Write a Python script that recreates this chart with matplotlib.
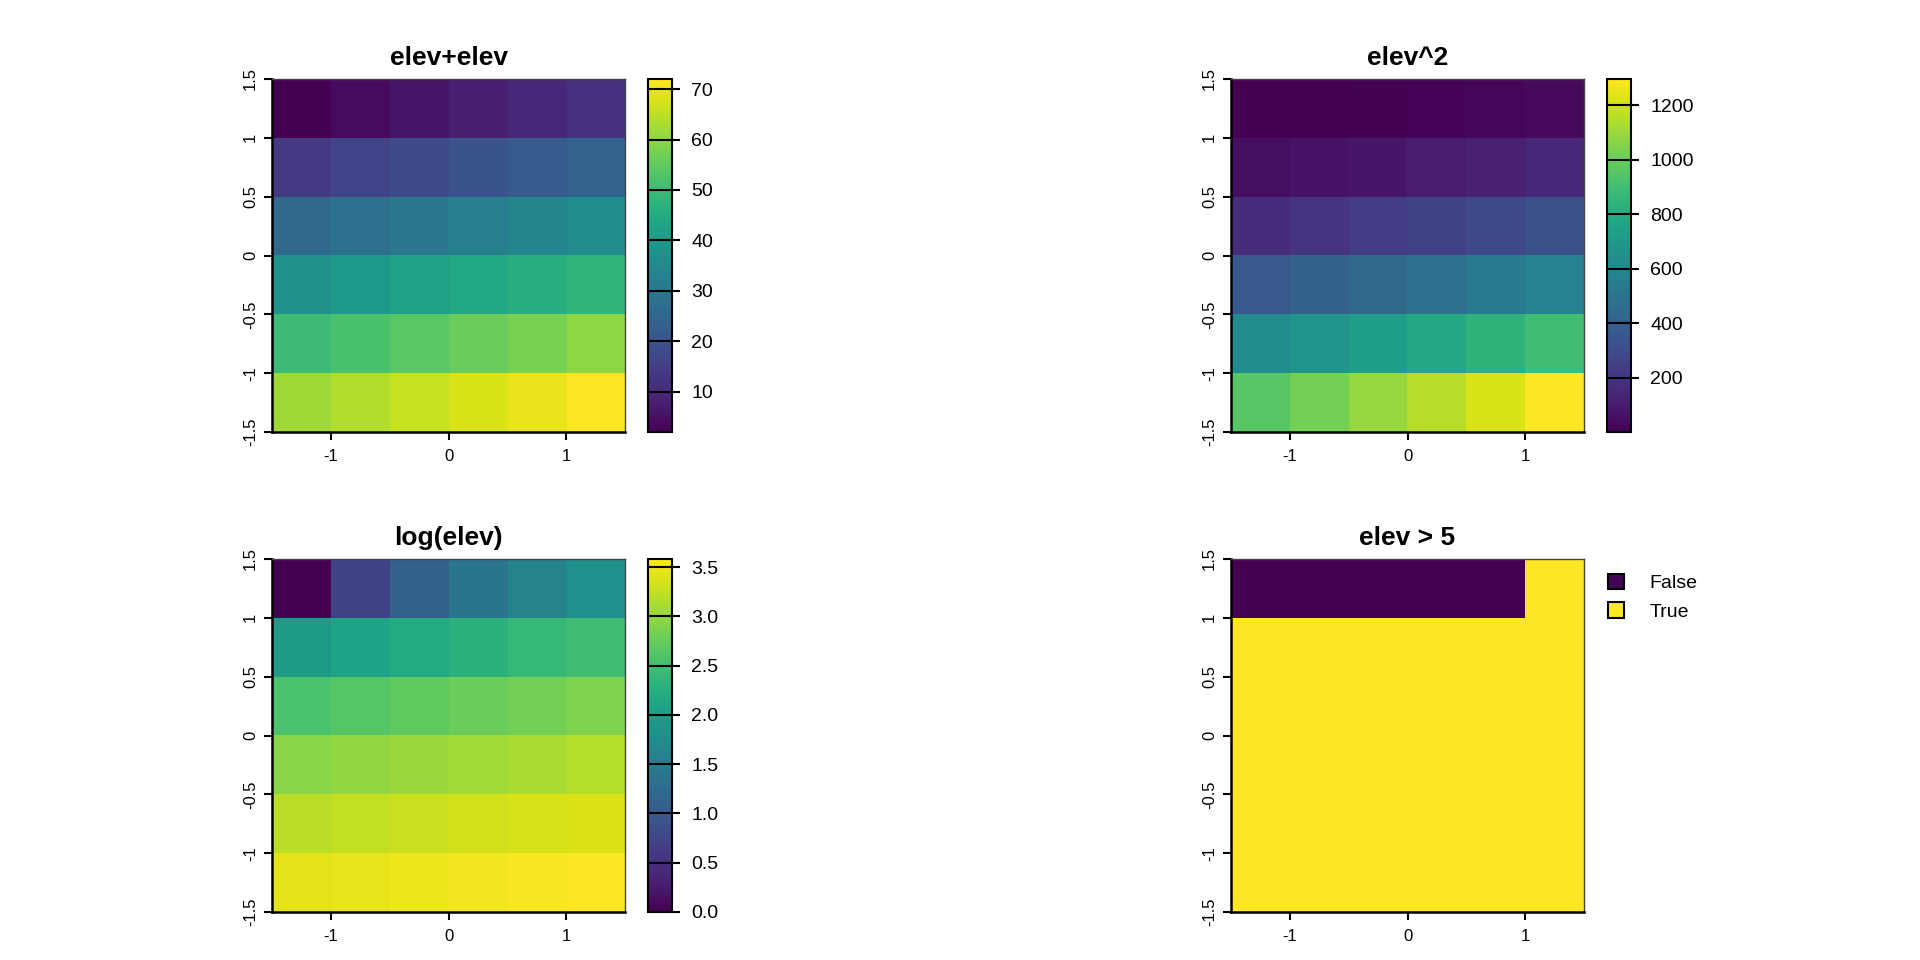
import numpy as np
import matplotlib
matplotlib.use('Agg')
from matplotlib import pyplot as plt
from matplotlib.colors import Normalize, ListedColormap
from matplotlib.cm import ScalarMappable
from matplotlib.patches import Patch

plt.rcParams['font.family'] = ['Liberation Sans', 'DejaVu Sans']

# 6x6 raster "elev", top row first
elev = np.array([
    [1, 2, 3, 4, 5, 6],
    [7, 8, 9, 10, 11, 12],
    [13, 14, 15, 16, 17, 18],
    [19, 20, 21, 22, 23, 24],
    [25, 26, 27, 28, 29, 30],
    [31, 32, 33, 34, 35, 36],
], dtype=float)

titles = ['elev+elev', 'elev^2', 'log(elev)', 'elev > 5']
cbar_ticks = [
    [10, 20, 30, 40, 50, 60, 70],
    [200, 400, 600, 800, 1000, 1200],
    [0.0, 0.5, 1.0, 1.5, 2.0, 2.5, 3.0, 3.5],
]
cbar_labels = [
    ['10', '20', '30', '40', '50', '60', '70'],
    ['200', '400', '600', '800', '1000', '1200'],
    ['0.0', '0.5', '1.0', '1.5', '2.0', '2.5', '3.0', '3.5'],
]
legend_labels = ['False', 'True']
xticks = [-1, 0, 1]
xtick_labels = ['-1', '0', '1']
yticks = [-1.5, -1, -0.5, 0, 0.5, 1, 1.5]
ytick_labels = ['-1.5', '-1', '-0.5', '0', '0.5', '1', '1.5']

layers = [elev + elev, elev ** 2, np.log(elev), (elev > 5).astype(float)]

W, H = 1920, 960
fig = plt.figure(figsize=(19.2, 9.6), dpi=100)

# pixel positions (left, top) of each map panel
pos = [(272, 79), (1231, 79), (272, 559), (1231, 559)]
size = 353
ext = [-1.5, 1.5, -1.5, 1.5]
lo_col, hi_col = '#440154', '#FDE725'

for i in range(4):
    px, py = pos[i]
    ax = fig.add_axes([px / W, (H - py - size) / H, size / W, size / H])
    data = layers[i]
    if i < 3:
        vmin, vmax = data.min(), data.max()
        ax.imshow(data, cmap='viridis', vmin=vmin, vmax=vmax, extent=ext,
                  origin='upper', interpolation='nearest', aspect='auto')
    else:
        ax.imshow(data, cmap=ListedColormap([lo_col, hi_col]), vmin=0, vmax=1,
                  extent=ext, origin='upper', interpolation='nearest', aspect='auto')
    ax.set_xlim(-1.5, 1.5)
    ax.set_ylim(-1.5, 1.5)
    ax.set_xticks(xticks)
    ax.set_xticklabels(xtick_labels)
    ax.set_yticks(yticks)
    ax.set_yticklabels(ytick_labels, rotation=90, va='center')
    ax.tick_params(axis='both', direction='out', length=6, width=1.5, labelsize=12, pad=4)
    ax.tick_params(axis='x', pad=6)
    for s in ['left', 'bottom']:
        ax.spines[s].set_linewidth(1.8)
        ax.spines[s].set_color('black')
    for s in ['top', 'right']:
        ax.spines[s].set_linewidth(1.0)
        ax.spines[s].set_color('#444444')
    ax.set_title(titles[i], fontsize=19, fontweight='bold', pad=10)

    if i < 3:
        cax = fig.add_axes([(px + 376) / W, (H - py - size) / H, 24 / W, size / H])
        sm = ScalarMappable(norm=Normalize(vmin=vmin, vmax=vmax), cmap='viridis')
        cb = fig.colorbar(sm, cax=cax)
        cb.outline.set_linewidth(1.5)
        cb.outline.set_edgecolor('black')
        cb.set_ticks(cbar_ticks[i])
        cb.set_ticklabels(cbar_labels[i])
        cax.tick_params(direction='out', length=6, width=1.5, labelsize=14, pad=8)
        for t in cbar_ticks[i]:
            cax.axhline(t, color='black', lw=1.5)
    else:
        handles = [Patch(facecolor=lo_col, edgecolor='black', lw=1.5),
                   Patch(facecolor=hi_col, edgecolor='black', lw=1.5)]
        ax.legend(handles, legend_labels, loc='upper left', bbox_to_anchor=(1.045, 0.98),
                  frameon=False, fontsize=14, handlelength=0.85, handleheight=0.85,
                  handletextpad=1.3, labelspacing=0.5, borderaxespad=0)

fig.savefig('out.png', dpi=100, facecolor='white')
